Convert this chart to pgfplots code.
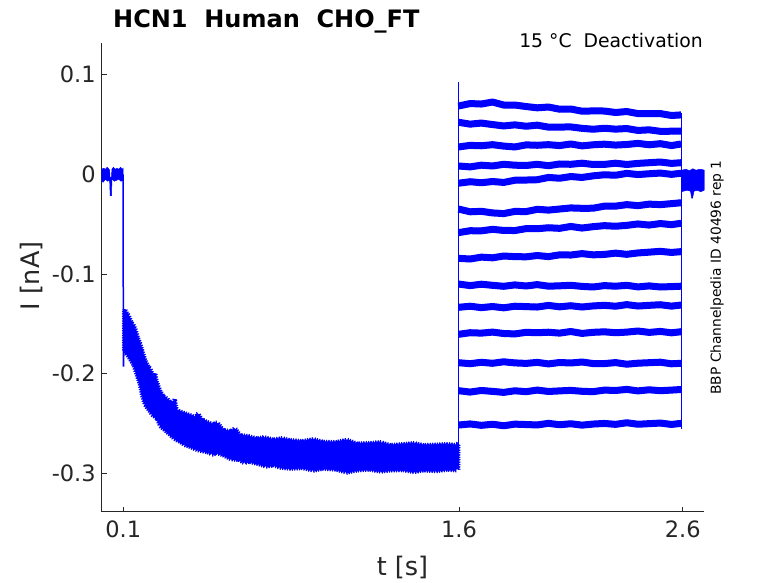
\documentclass[border=0pt]{standalone}
\usepackage{fontspec}
\setmainfont{DejaVu Sans}
\usepackage{pgfplots}
\usepackage{pgfplotstable}
\pgfplotsset{compat=1.18}
\usetikzlibrary{decorations.pathmorphing}
\definecolor{axgray}{RGB}{38,38,38}
\definecolor{trblue}{RGB}{0,0,255}

\pgfplotstableread{
t T1 T2 T3 T4 T5 T6 T7 T8 T9 T10 T11 T12 T13 T14
1.598 0.0685 0.0522 0.0274 0.0083 -0.0090 -0.0349 -0.0586 -0.0844 -0.1102 -0.1336 -0.1607 -0.1892 -0.2173 -0.2518
1.650 0.0710 0.0503 0.0290 0.0074 -0.0075 -0.0377 -0.0567 -0.0851 -0.1118 -0.1325 -0.1591 -0.1902 -0.2187 -0.2507
1.700 0.0705 0.0514 0.0286 0.0091 -0.0085 -0.0372 -0.0568 -0.0832 -0.1104 -0.1339 -0.1595 -0.1888 -0.2171 -0.2521
1.750 0.0725 0.0499 0.0297 0.0083 -0.0073 -0.0388 -0.0553 -0.0839 -0.1115 -0.1328 -0.1585 -0.1898 -0.2180 -0.2510
1.800 0.0695 0.0485 0.0283 0.0100 -0.0082 -0.0395 -0.0564 -0.0821 -0.1125 -0.1341 -0.1599 -0.1883 -0.2190 -0.2525
1.850 0.0695 0.0496 0.0274 0.0091 -0.0060 -0.0373 -0.0565 -0.0827 -0.1111 -0.1325 -0.1603 -0.1894 -0.2174 -0.2509
1.900 0.0680 0.0482 0.0295 0.0088 -0.0058 -0.0375 -0.0546 -0.0829 -0.1122 -0.1329 -0.1587 -0.1899 -0.2183 -0.2513
1.950 0.0667 0.0493 0.0291 0.0100 -0.0055 -0.0352 -0.0547 -0.0816 -0.1108 -0.1333 -0.1591 -0.1889 -0.2167 -0.2517
2.000 0.0675 0.0473 0.0297 0.0086 -0.0032 -0.0360 -0.0537 -0.0827 -0.1124 -0.1317 -0.1586 -0.1904 -0.2181 -0.2501
2.050 0.0653 0.0474 0.0288 0.0103 -0.0040 -0.0349 -0.0543 -0.0809 -0.1120 -0.1331 -0.1595 -0.1890 -0.2175 -0.2515
2.100 0.0655 0.0475 0.0304 0.0100 -0.0023 -0.0338 -0.0524 -0.0811 -0.1115 -0.1320 -0.1579 -0.1895 -0.2170 -0.2505
2.150 0.0633 0.0461 0.0285 0.0111 -0.0032 -0.0342 -0.0540 -0.0797 -0.1126 -0.1333 -0.1598 -0.1885 -0.2179 -0.2519
2.200 0.0636 0.0452 0.0296 0.0098 -0.0016 -0.0341 -0.0526 -0.0809 -0.1132 -0.1322 -0.1587 -0.1901 -0.2183 -0.2508
2.250 0.0635 0.0462 0.0302 0.0099 -0.0005 -0.0320 -0.0516 -0.0805 -0.1118 -0.1316 -0.1582 -0.1901 -0.2167 -0.2502
2.300 0.0620 0.0453 0.0293 0.0111 -0.0010 -0.0320 -0.0522 -0.0792 -0.1124 -0.1325 -0.1591 -0.1891 -0.2171 -0.2511
2.350 0.0630 0.0459 0.0299 0.0098 0.0009 -0.0305 -0.0513 -0.0804 -0.1115 -0.1309 -0.1585 -0.1907 -0.2160 -0.2495
2.400 0.0609 0.0440 0.0310 0.0109 -0.0003 -0.0315 -0.0499 -0.0790 -0.1131 -0.1323 -0.1574 -0.1897 -0.2175 -0.2510
2.450 0.0609 0.0446 0.0296 0.0116 0.0005 -0.0300 -0.0510 -0.0782 -0.1121 -0.1316 -0.1588 -0.1892 -0.2164 -0.2504
2.500 0.0609 0.0431 0.0307 0.0123 0.0012 -0.0305 -0.0495 -0.0774 -0.1132 -0.1310 -0.1578 -0.1887 -0.2173 -0.2498
2.550 0.0590 0.0432 0.0288 0.0109 -0.0001 -0.0295 -0.0506 -0.0785 -0.1128 -0.1324 -0.1592 -0.1903 -0.2167 -0.2512
2.593 0.0596 0.0433 0.0304 0.0116 0.0010 -0.0286 -0.0492 -0.0777 -0.1124 -0.1313 -0.1581 -0.1898 -0.2161 -0.2501
}\tails

\pgfplotsset{
  core/.style={draw=trblue, line width=7bp, line join=round},
  fuzz/.style={draw=trblue, line width=1.1bp, line join=round, decorate,
     decoration={zigzag, segment length=2.2bp, amplitude=2.6bp}},
}

\begin{document}
\begin{tikzpicture}[x=1bp,y=1bp]
\fill[white] (0,0) rectangle (778,583);
\path[use as bounding box] (0,0) rectangle (778,583);
\begin{axis}[
  at={(101.7bp,71.3bp)}, anchor=south west,
  scale only axis, width=602.6bp, height=468.7bp,
  xmin=0.0035, xmax=2.6965, ymin=-0.3388, ymax=0.1318,
  axis x line*=bottom, axis y line*=left,
  xtick={0.1,1.6,2.6}, xticklabels={0.1,1.6,2.6},
  ytick={-0.3,-0.2,-0.1,0,0.1}, yticklabels={-0.3,-0.2,-0.1,0,0.1},
  tick align=inside, major tick length=5bp,
  tick style={color=axgray, line width=0.5bp},
  axis line style={color=axgray, line width=0.5bp},
  ticklabel style={font=\fontsize{22.5bp}{27bp}\selectfont, text=axgray},
  xticklabel style={yshift=-5.5bp},
  yticklabel style={xshift=-2.5bp},
]
% baseline before the step
\addplot[draw=trblue, fill=trblue, line width=0.5bp] coordinates {
 (0.0035,0.005) (0.012,0.006) (0.020,0.005) (0.028,0.007) (0.036,0.005) (0.0390,0.004)
 (0.0405,-0.003) (0.0475,-0.003) (0.0490,0.005) (0.056,0.007) (0.064,0.005) (0.072,0.006)
 (0.080,0.005) (0.088,0.007) (0.095,0.005) (0.0995,0.006)
 (0.0995,-0.006) (0.090,-0.007) (0.080,-0.005) (0.070,-0.006) (0.060,-0.007) (0.052,-0.005)
 (0.0490,-0.006) (0.0475,-0.0215) (0.0415,-0.0215) (0.0390,-0.006) (0.030,-0.007)
 (0.020,-0.005) (0.010,-0.008) (0.0035,-0.007)
} -- cycle;
% step and capacitive spike at 0.1 s
\addplot[draw=trblue, line width=1.5bp] coordinates {
 (0.0995,0.000) (0.1000,-0.1925) (0.1015,-0.1925) (0.1040,-0.1450)
};
% deactivation decay band 0.1 - 1.6 s
\addplot[draw=trblue, fill=trblue, line width=1.0bp, line join=round, decorate,
   decoration={zigzag, segment length=2.4bp, amplitude=1.8bp}] coordinates {
 (0.1040,-0.1370) (0.1076,-0.1357) (0.1150,-0.1390) (0.1250,-0.1420) (0.1350,-0.1480)
 (0.1447,-0.1508) (0.1550,-0.1560) (0.1650,-0.1640) (0.1746,-0.1694) (0.1850,-0.1770)
 (0.1970,-0.1860) (0.2050,-0.1900) (0.2117,-0.1929) (0.2200,-0.1950) (0.2341,-0.2030)
 (0.2420,-0.2000) (0.2493,-0.2080) (0.2640,-0.2170) (0.2800,-0.2230) (0.2940,-0.2250)
 (0.3087,-0.2283) (0.3200,-0.2300) (0.3300,-0.2260) (0.3386,-0.2367) (0.3534,-0.2380)
 (0.3750,-0.2400) (0.3981,-0.2418) (0.4200,-0.2440) (0.4350,-0.2400) (0.4500,-0.2460)
 (0.4727,-0.2485) (0.5000,-0.2510) (0.5200,-0.2490) (0.5469,-0.2569) (0.5800,-0.2580)
 (0.6000,-0.2550) (0.6215,-0.2620) (0.6600,-0.2630) (0.6962,-0.2653) (0.7300,-0.2640)
 (0.7704,-0.2665) (0.8100,-0.2650) (0.8450,-0.2670) (0.9000,-0.2680) (0.9500,-0.2660)
 (0.9938,-0.2687) (1.0500,-0.2690) (1.1000,-0.2665) (1.1431,-0.2704) (1.2000,-0.2700)
 (1.2500,-0.2690) (1.2919,-0.2720) (1.3500,-0.2710) (1.4000,-0.2700) (1.4407,-0.2720)
 (1.5000,-0.2715) (1.5500,-0.2710) (1.5900,-0.2720) (1.5970,-0.2700)
 (1.5970,-0.2960) (1.5900,-0.2973) (1.5500,-0.2965) (1.5000,-0.2980) (1.4407,-0.2973)
 (1.4000,-0.2990) (1.3500,-0.2970) (1.2919,-0.2973) (1.2500,-0.2985) (1.2000,-0.2965)
 (1.1431,-0.2973) (1.1000,-0.2995) (1.0500,-0.2965) (0.9938,-0.2956) (0.9500,-0.2975)
 (0.9000,-0.2950) (0.8450,-0.2956) (0.8000,-0.2945) (0.7704,-0.2922) (0.7400,-0.2935)
 (0.6962,-0.2906) (0.6600,-0.2885) (0.6400,-0.2900) (0.6215,-0.2872) (0.5800,-0.2860)
 (0.5469,-0.2822) (0.5200,-0.2800) (0.5000,-0.2815) (0.4727,-0.2788) (0.4400,-0.2775)
 (0.4200,-0.2760) (0.3981,-0.2737) (0.3750,-0.2720) (0.3534,-0.2687) (0.3300,-0.2660)
 (0.3100,-0.2620) (0.2940,-0.2586) (0.2800,-0.2560) (0.2650,-0.2530) (0.2493,-0.2451)
 (0.2300,-0.2420) (0.2150,-0.2370) (0.1970,-0.2316) (0.1850,-0.2230) (0.1746,-0.2114)
 (0.1600,-0.2010) (0.1447,-0.1912) (0.1250,-0.1840) (0.1076,-0.1778) (0.1040,-0.1790)
} -- cycle;
% jump at 1.6 s
\addplot[draw=trblue, line width=1.3bp] coordinates {(1.5975,-0.2970) (1.5975,0.0930)};
% tail currents 1.6 - 2.6 s
\addplot[core] table[x=t, y=T1] {\tails};
\addplot[fuzz] table[x=t, y=T1] {\tails};
\addplot[core] table[x=t, y=T2] {\tails};
\addplot[fuzz] table[x=t, y=T2] {\tails};
\addplot[core] table[x=t, y=T3] {\tails};
\addplot[fuzz] table[x=t, y=T3] {\tails};
\addplot[core] table[x=t, y=T4] {\tails};
\addplot[fuzz] table[x=t, y=T4] {\tails};
\addplot[core] table[x=t, y=T5] {\tails};
\addplot[fuzz] table[x=t, y=T5] {\tails};
\addplot[core] table[x=t, y=T6] {\tails};
\addplot[fuzz] table[x=t, y=T6] {\tails};
\addplot[core] table[x=t, y=T7] {\tails};
\addplot[fuzz] table[x=t, y=T7] {\tails};
\addplot[core] table[x=t, y=T8] {\tails};
\addplot[fuzz] table[x=t, y=T8] {\tails};
\addplot[core] table[x=t, y=T9] {\tails};
\addplot[fuzz] table[x=t, y=T9] {\tails};
\addplot[core] table[x=t, y=T10] {\tails};
\addplot[fuzz] table[x=t, y=T10] {\tails};
\addplot[core] table[x=t, y=T11] {\tails};
\addplot[fuzz] table[x=t, y=T11] {\tails};
\addplot[core] table[x=t, y=T12] {\tails};
\addplot[fuzz] table[x=t, y=T12] {\tails};
\addplot[core] table[x=t, y=T13] {\tails};
\addplot[fuzz] table[x=t, y=T13] {\tails};
\addplot[core] table[x=t, y=T14] {\tails};
\addplot[fuzz] table[x=t, y=T14] {\tails};
% return at 2.6 s
\addplot[draw=trblue, line width=1.3bp] coordinates {(2.5935,-0.2560) (2.5935,0.0620)};
% baseline after 2.6 s
\addplot[draw=trblue, fill=trblue, line width=0.5bp] coordinates {
 (2.5935,0.004) (2.615,0.005) (2.630,0.0035) (2.645,0.0055) (2.660,0.004) (2.675,0.005)
 (2.690,0.0045) (2.6965,0.004)
 (2.6965,-0.016) (2.680,-0.0175) (2.665,-0.016) (2.650,-0.017) (2.6440,-0.0240)
 (2.6400,-0.0240) (2.635,-0.017) (2.620,-0.016) (2.5935,-0.0175)
} -- cycle;
\end{axis}
% texts
\node[anchor=base west, inner sep=0pt, text=black,
      font=\fontsize{24bp}{28bp}\selectfont\bfseries] at (113,555) {HCN1\ \ Human\ \ CHO\_FT};
\node[anchor=base east, inner sep=0pt, text=black,
      font=\fontsize{18.8bp}{22bp}\selectfont] at (703,535) {15 °C\ \ Deactivation};
\node[anchor=base, inner sep=0pt, text=axgray,
      font=\fontsize{25.5bp}{30bp}\selectfont] at (402.5,7) {t [s]};
\node[anchor=center, inner sep=0pt, text=axgray, rotate=90,
      font=\fontsize{25.5bp}{30bp}\selectfont] at (31,307) {I [nA]};
\node[anchor=center, inner sep=0pt, text=black, rotate=90,
      font=\fontsize{13.8bp}{16bp}\selectfont] at (717,305.5) {BBP Channelpedia ID 40496 rep 1};
\end{tikzpicture}
\end{document}
